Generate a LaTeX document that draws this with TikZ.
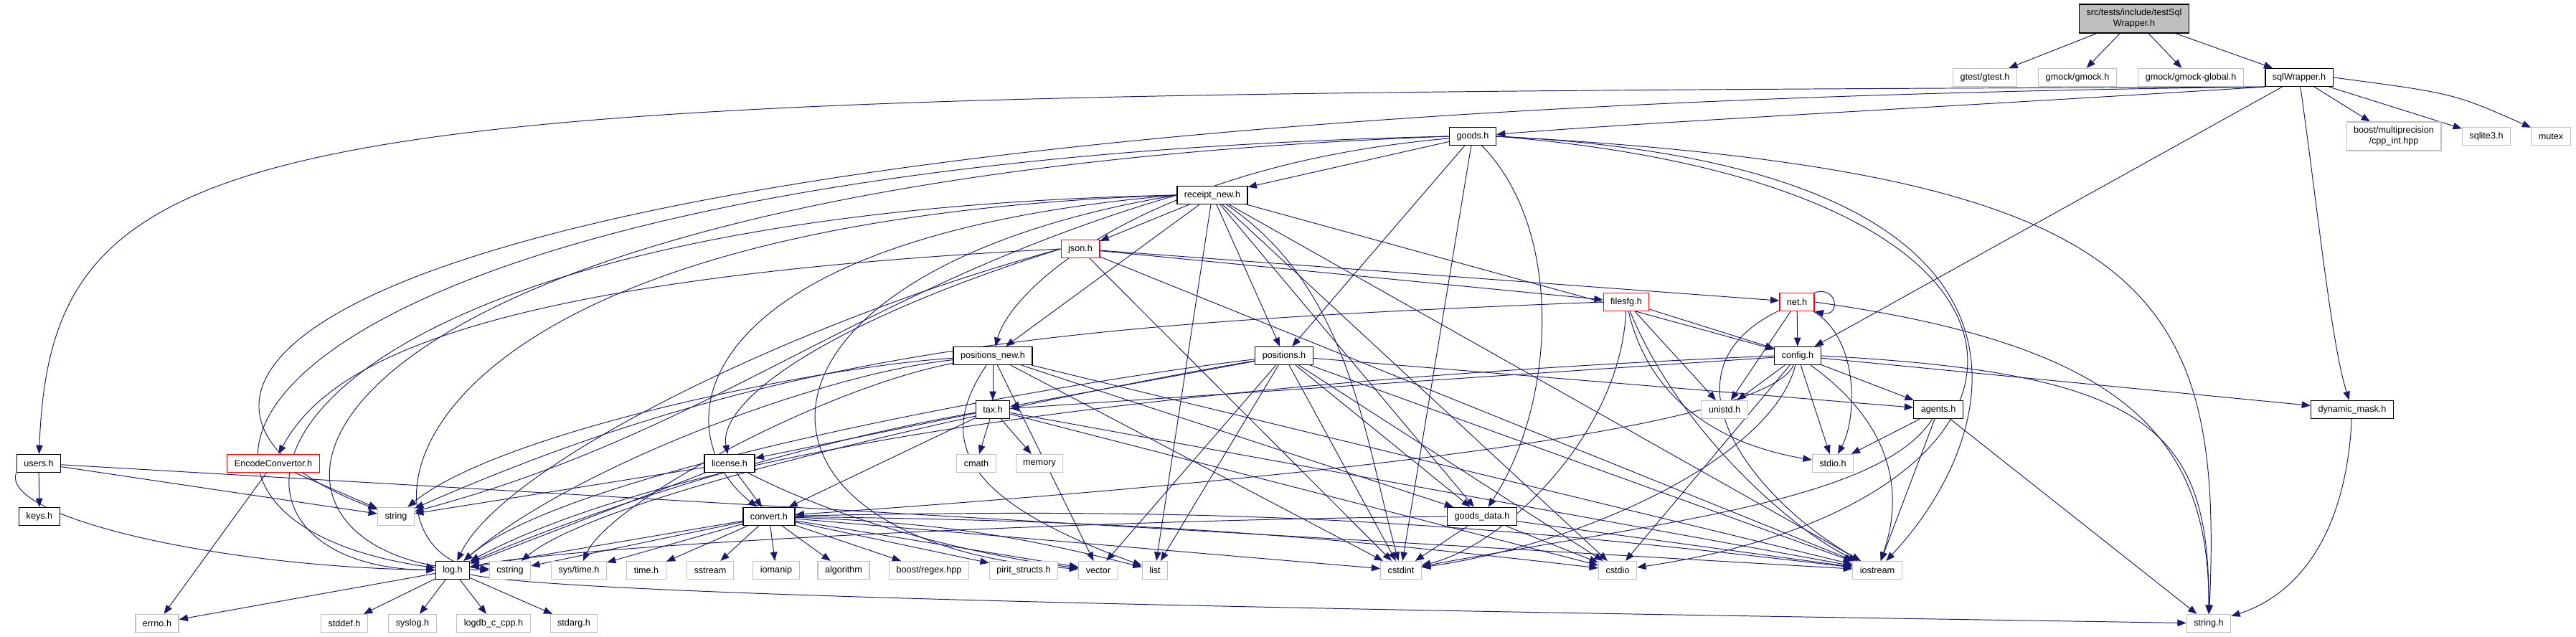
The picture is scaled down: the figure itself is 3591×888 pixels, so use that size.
\documentclass[tikz,border=0pt]{standalone}
\usepackage{fontspec}
\setmainfont{Liberation Sans}
\usetikzlibrary{arrows.meta}
\definecolor{edgeblue}{HTML}{191970}
\definecolor{extgray}{HTML}{BFBFBF}
\pgfdeclarelayer{back}
\pgfsetlayers{back,main}

\begin{document}
\begin{tikzpicture}[
    x=0.02cm, y=-0.02cm,
    hdr/.style={rectangle, draw=black, fill=white, line width=0.7pt, font=\fontsize{7.2}{8.6}\selectfont, minimum height=0.5cm, inner xsep=0.2cm, inner ysep=0pt},
    sys/.style={hdr, draw=extgray},
    cut/.style={hdr, draw=red},
    dep/.style={-{Triangle[length=7pt,width=5.4pt]}, draw=edgeblue, line width=0.55pt}
]
\useasboundingbox (0,0) rectangle (3591,888);

% Top
\node[hdr, fill=extgray, align=center, minimum height=0.8cm] (main) at (2975,26) {src/tests/include/testSql\\Wrapper.h};
\node[sys] (gtest) at (2767,108) {gtest/gtest.h};
\node[sys] (gmock) at (2896,108) {gmock/gmock.h};
\node[sys] (gmockglobal) at (3054,108) {gmock/gmock-global.h};
\node[hdr] (sqlw) at (3205,108) {sqlWrapper.h};
\node[sys, align=center, minimum height=0.8cm] (boostmp) at (3337,190) {boost/multiprecision\\/cpp\_int.hpp};
\node[sys] (sqlite) at (3466,190) {sqlite3.h};
\node[sys] (mutex) at (3556,190) {mutex};

% Project headers
\node[hdr] (goods) at (2053,190) {goods.h};
\node[hdr] (receipt) at (1690,272) {receipt\_new.h};
\node[cut] (json) at (1506,347) {json.h};
\node[cut] (filesfg) at (2267,421) {filesfg.h};
\node[cut] (net) at (2505,421) {net.h};
\node[hdr] (posnew) at (1384,496) {positions\_new.h};
\node[hdr] (positions) at (1790,496) {positions.h};
\node[hdr] (config) at (2506,496) {config.h};
\node[hdr] (tax) at (1384,571) {tax.h};
\node[sys] (unistd) at (2404,571) {unistd.h};
\node[hdr] (agents) at (2702,571) {agents.h};
\node[hdr] (dynmask) at (3279,571) {dynamic\_mask.h};
\node[hdr] (users) at (54,646) {users.h};
\node[cut] (encconv) at (381,646) {EncodeConvertor.h};
\node[hdr] (license) at (1017,646) {license.h};
\node[sys] (cmath) at (1361,646) {cmath};
\node[sys] (memory) at (1449,646) {memory};
\node[sys] (stdio) at (2555,646) {stdio.h};
\node[hdr] (keys) at (55,720) {keys.h};
\node[sys] (string) at (552,720) {string};
\node[hdr] (convert) at (1072,720) {convert.h};
\node[hdr] (goodsdata) at (2066,720) {goods\_data.h};

% System headers
\node[hdr] (log) at (631,795) {log.h};
\node[sys] (cstring) at (711,795) {cstring};
\node[sys] (systime) at (807,795) {sys/time.h};
\node[sys] (timeh) at (901,795) {time.h};
\node[sys] (sstream) at (990,795) {sstream};
\node[sys] (iomanip) at (1082,795) {iomanip};
\node[sys] (algorithm) at (1176,795) {algorithm};
\node[sys] (boostregex) at (1295,795) {boost/regex.hpp};
\node[sys] (pirit) at (1427,795) {pirit\_structs.h};
\node[sys] (vector) at (1531,795) {vector};
\node[sys] (list) at (1610,795) {list};
\node[sys] (cstdint) at (1953,795) {cstdint};
\node[sys] (cstdio) at (2255,795) {cstdio};
\node[sys] (iostream) at (2617,795) {iostream};
\node[sys] (errno) at (219,869) {errno.h};
\node[sys] (stddef) at (480,869) {stddef.h};
\node[sys] (syslog) at (575,869) {syslog.h};
\node[sys] (logdb) at (688,869) {logdb\_c\_cpp.h};
\node[sys] (stdarg) at (800,869) {stdarg.h};
\node[sys] (stringh) at (3079,869) {string.h};

\begin{pgfonlayer}{back}
% testSqlWrapper.h
\draw[dep] (main) -- (gtest);
\draw[dep] (main) -- (gmock);
\draw[dep] (main) -- (gmockglobal);
\draw[dep] (main) -- (sqlw);

% sqlWrapper.h
\draw[dep] (sqlw) -- (boostmp);
\draw[dep] (sqlw) -- (sqlite);
\draw[dep] (sqlw.east) .. controls (3420,130) .. (mutex);
\draw[dep] (sqlw) .. controls (3232,300) and (3250,480) .. (dynmask);
\draw[dep] (sqlw) -- (config);
\draw[dep] (sqlw.south west) .. controls (2700,150) and (2300,170) .. (goods);
\draw[dep] (sqlw.south west) .. controls (400,132) and (73,140) .. (users);
\draw[dep] (sqlw.south west) .. controls (300,155) and (125,560) .. (string);

% goods.h
\draw[dep] (goods) -- (receipt);
\draw[dep] (goods) .. controls (1600,230) and (1410,400) .. (posnew);
\draw[dep] (goods) -- (positions);
\draw[dep] (goods) .. controls (2180,320) and (2170,560) .. (goodsdata);
\draw[dep] (goods) -- (cstdint);
\draw[dep] (goods.west) .. controls (300,230) and (100,720) .. (log);
\draw[dep] (goods.west) .. controls (300,255) and (270,790) .. (cstring);
\draw[dep] (goods.east) .. controls (3000,240) and (3100,400) .. (stringh);
\draw[dep] (goods.east) .. controls (2900,230) and (2800,600) .. (iostream);
\draw[dep] (goods.east) .. controls (2950,260) and (2900,700) .. (cstdio);

% receipt_new.h
\draw[dep] (receipt) -- (json);
\draw[dep] (receipt) -- (posnew);
\draw[dep] (receipt) -- (positions);
\draw[dep] (receipt) -- (list);
\draw[dep] (receipt) -- (goodsdata);
\draw[dep] (receipt) .. controls (1880,400) and (1900,600) .. (cstdint);
\draw[dep] (receipt) -- (config);
\draw[dep] (receipt) -- (iostream);
\draw[dep] (receipt) -- (cstdio);
\draw[dep] (receipt.west) .. controls (950,330) and (920,600) .. (convert);
\draw[dep] (receipt.west) .. controls (990,380) and (1000,760) .. (vector);
\draw[dep] (receipt.west) .. controls (1200,400) and (1000,600) .. (string);
\draw[dep] (receipt.west) .. controls (300,300) and (224,790) .. (log);
\draw[dep] (receipt.west) .. controls (487,310) and (487,780) .. (cstring);

% json.h
\draw[dep] (json) -- (filesfg);
\draw[dep] (json) -- (net);
\draw[dep] (json) -- (cstdint);
\draw[dep] (json) -- (iostream);
\draw[dep] (json.west) .. controls (620,390) and (450,520) .. (encconv);
\draw[dep] (json.west) .. controls (1150,450) and (1000,560) .. (license);
\draw[dep] (json.west) .. controls (1100,450) and (700,650) .. (log);

% filesfg.h
\draw[dep] (filesfg) -- (config);
\draw[dep] (filesfg) -- (unistd);
\draw[dep] (filesfg) .. controls (2300,560) and (2400,620) .. (stdio);
\draw[dep] (filesfg) .. controls (2260,600) and (2100,760) .. (cstdint);
\draw[dep] (filesfg) .. controls (2340,600) and (2500,740) .. (iostream);
\draw[dep] (filesfg.west) .. controls (1500,450) and (1100,480) .. (string);

% net.h
\draw[dep] (net) -- (config);
\draw[dep] (net) -- (unistd);
\draw[dep] (net) .. controls (2590,470) and (2590,580) .. (stdio);
\draw[dep] (net) .. controls (2300,520) and (2450,700) .. (iostream);
\draw[dep] (net.east) .. controls (2950,480) and (3080,600) .. (stringh);
\draw[dep] (net.north east) .. controls (2562,398) and (2566,442) .. (net.south east);

% config.h
\draw[dep] (config) -- (unistd);
\draw[dep] (config) -- (stdio);
\draw[dep] (config) -- (agents);
\draw[dep] (config) -- (dynmask);
\draw[dep] (config) -- (tax);
\draw[dep] (config) .. controls (2460,600) and (1800,670) .. (convert);
\draw[dep] (config) .. controls (2470,640) and (2200,760) .. (cstdint);
\draw[dep] (config) -- (cstdio);
\draw[dep] (config) .. controls (2650,600) and (2650,700) .. (iostream);
\draw[dep] (config.east) .. controls (3000,520) and (3080,600) .. (stringh);
\draw[dep] (config.west) .. controls (1800,525) and (1000,600) .. (log);

% agents.h
\draw[dep] (agents) -- (stdio);
\draw[dep] (agents) -- (iostream);
\draw[dep] (agents) -- (stringh);
\draw[dep] (agents) .. controls (2620,700) and (2300,730) .. (cstdint);

% positions.h
\draw[dep] (positions) -- (tax);
\draw[dep] (positions) -- (agents);
\draw[dep] (positions) -- (vector);
\draw[dep] (positions) -- (list);
\draw[dep] (positions) -- (goodsdata);
\draw[dep] (positions) -- (cstdint);
\draw[dep] (positions) -- (cstdio);
\draw[dep] (positions) -- (iostream);
\draw[dep] (positions) .. controls (1500,530) and (800,650) .. (log);
\draw[dep] (positions) .. controls (1500,545) and (850,680) .. (cstring);

% positions_new.h
\draw[dep] (posnew) -- (tax);
\draw[dep] (posnew) -- (goodsdata);
\draw[dep] (posnew) -- (cstdint);
\draw[dep] (posnew) -- (iostream);
\draw[dep] (posnew) -- (vector);
\draw[dep] (posnew) .. controls (1300,620) and (1350,700) .. (list);
\draw[dep] (posnew) .. controls (1150,520) and (800,650) .. (log);
\draw[dep] (posnew) .. controls (1150,510) and (700,600) .. (string);
\draw[dep] (posnew) .. controls (1150,540) and (850,700) .. (systime);

% tax.h
\draw[dep] (tax) -- (cmath);
\draw[dep] (tax) -- (memory);
\draw[dep] (tax) -- (license);
\draw[dep] (tax) -- (convert);
\draw[dep] (tax) -- (iostream);
\draw[dep] (tax) -- (cstdio);
\draw[dep] (tax) .. controls (1100,620) and (800,720) .. (log);

% license.h
\draw[dep] (license) -- (convert);
\draw[dep] (license) -- (string);
\draw[dep] (license) -- (log);
\draw[dep] (license) .. controls (1200,740) and (1400,780) .. (vector);

% convert.h
\draw[dep] (convert) -- (log);
\draw[dep] (convert) -- (cstring);
\draw[dep] (convert) -- (systime);
\draw[dep] (convert) -- (timeh);
\draw[dep] (convert) -- (sstream);
\draw[dep] (convert) -- (iomanip);
\draw[dep] (convert) -- (algorithm);
\draw[dep] (convert) -- (boostregex);
\draw[dep] (convert) -- (pirit);
\draw[dep] (convert) -- (vector);
\draw[dep] (convert) to[bend left=6] (list);
\draw[dep] (convert) -- (cstdint);
\draw[dep] (convert) to[bend left=3] (cstdio);
\draw[dep] (convert) to[bend left=4] (iostream);

% goods_data.h
\draw[dep] (goodsdata) -- (cstdint);
\draw[dep] (goodsdata) -- (cstdio);
\draw[dep] (goodsdata) -- (iostream);
\draw[dep] (goodsdata.west) .. controls (1500,725) and (800,760) .. (log);

% EncodeConvertor.h
\draw[dep] (encconv) -- (string);
\draw[dep] (encconv) -- (errno);

% users.h
\draw[dep] (users) -- (keys);
\draw[dep] (users) -- (string);
\draw[dep] (users.south west) .. controls (0,720) and (300,790) .. (log);
\draw[dep] (users) -- (iostream);

% log.h
\draw[dep] (log) -- (errno);
\draw[dep] (log) -- (stddef);
\draw[dep] (log) -- (syslog);
\draw[dep] (log) -- (logdb);
\draw[dep] (log) -- (stdarg);
\draw[dep] (log) .. controls (800,835) and (2200,855) .. (stringh);

% dynamic_mask.h
\draw[dep] (dynmask) .. controls (3270,750) and (3200,830) .. (stringh);
\end{pgfonlayer}

\end{tikzpicture}
\end{document}
